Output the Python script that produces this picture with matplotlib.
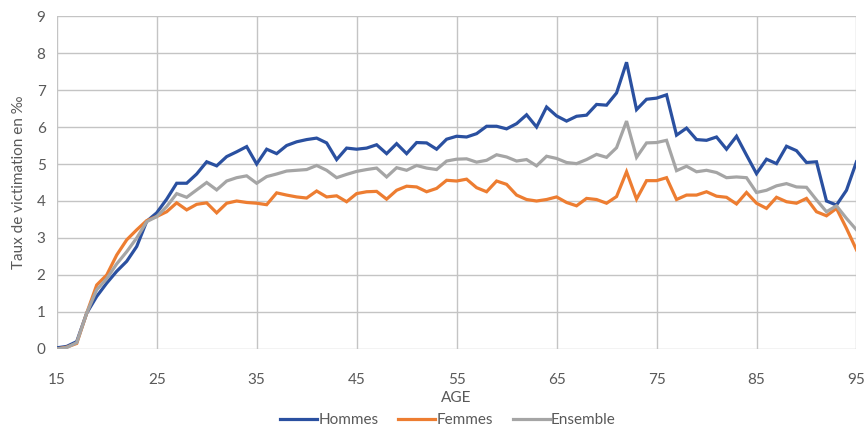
import matplotlib
matplotlib.use('Agg')
import matplotlib.pyplot as plt
import numpy as np

ages = list(range(15, 96))

hommes = [0.03, 0.07, 0.2, 0.97, 1.42, 1.78, 2.1, 2.37, 2.77, 3.45,
          3.68, 4.05, 4.48, 4.48, 4.73, 5.06, 4.95, 5.2, 5.33, 5.47,
          5.0, 5.4, 5.28, 5.5, 5.6, 5.66, 5.7, 5.57, 5.12, 5.43,
          5.4, 5.43, 5.52, 5.28, 5.55, 5.28, 5.58, 5.57, 5.4, 5.67,
          5.75, 5.73, 5.82, 6.02, 6.02, 5.95, 6.09, 6.33, 6.0, 6.54,
          6.3, 6.16, 6.29, 6.32, 6.61, 6.59, 6.92, 7.75, 6.47, 6.75,
          6.78, 6.87, 5.78, 5.97, 5.66, 5.64, 5.73, 5.4, 5.75, 5.24,
          4.74, 5.13, 5.01, 5.48, 5.36, 5.04, 5.06, 4.0, 3.89, 4.29,
          5.06]

femmes = [0.0, 0.05, 0.15, 0.97, 1.73, 2.0, 2.54, 2.95, 3.22, 3.47,
          3.58, 3.71, 3.95, 3.76, 3.91, 3.95, 3.68, 3.94, 4.0, 3.96,
          3.94, 3.9, 4.22, 4.16, 4.11, 4.08, 4.27, 4.11, 4.14, 3.98,
          4.2, 4.25, 4.26, 4.05, 4.29, 4.4, 4.38, 4.25, 4.34, 4.56,
          4.54, 4.59, 4.36, 4.25, 4.54, 4.45, 4.16, 4.04, 4.0, 4.04,
          4.11, 3.96, 3.87, 4.07, 4.04, 3.94, 4.12, 4.79, 4.05, 4.55,
          4.55, 4.63, 4.04, 4.16, 4.16, 4.25, 4.13, 4.1, 3.92, 4.23,
          3.94, 3.8, 4.1, 3.98, 3.94, 4.07, 3.71, 3.6, 3.8, 3.26,
          2.68]

ensemble = [0.0, 0.04, 0.17, 0.97, 1.6, 1.9, 2.3, 2.63, 3.0, 3.44,
            3.58, 3.85, 4.2, 4.1, 4.3, 4.5, 4.3, 4.54, 4.63, 4.68,
            4.48, 4.66, 4.73, 4.81, 4.83, 4.85, 4.96, 4.83, 4.63, 4.72,
            4.8, 4.85, 4.89, 4.65, 4.9, 4.83, 4.96, 4.89, 4.85, 5.08,
            5.13, 5.14, 5.05, 5.1, 5.25, 5.19, 5.08, 5.12, 4.95, 5.21,
            5.15, 5.04, 5.01, 5.12, 5.26, 5.18, 5.44, 6.16, 5.18, 5.57,
            5.58, 5.64, 4.82, 4.94, 4.79, 4.83, 4.77, 4.63, 4.65, 4.63,
            4.23, 4.29, 4.41, 4.47, 4.38, 4.37, 4.03, 3.71, 3.87, 3.53,
            3.22]

series = [('Hommes', hommes, '#2A50A0'),
          ('Femmes', femmes, '#ED7D31'),
          ('Ensemble', ensemble, '#A5A5A5')]

plt.rcParams['font.family'] = ['Lato', 'DejaVu Sans']

fig = plt.figure(figsize=(8.66, 4.28), dpi=100)
ax = fig.add_axes([0.0655, 0.1846, 0.9235, 0.778])

for name, vals, color in series:
    ax.plot(ages, vals, color=color, lw=2.3, label=name, solid_joinstyle='miter')

ax.set_xlim(15, 95)
ax.set_ylim(0, 9)
ax.set_xticks(np.arange(15, 96, 10))
ax.set_yticks(np.arange(0, 10, 1))
ax.grid(True, color='#C4C4C4', lw=1.0)
ax.set_axisbelow(True)
for s in ax.spines.values():
    s.set_visible(False)
ax.tick_params(length=0, labelsize=11, labelcolor='#595959')
ax.tick_params(axis='x', pad=17)
ax.tick_params(axis='y', pad=8)

ax.set_xlabel('AGE', fontsize=11, color='#595959', va='center')
ax.xaxis.set_label_coords(0.5, -0.147)
ax.set_ylabel('Taux de victimation en ‰', fontsize=11, color='#595959', labelpad=8)

ax.legend(loc='center', bbox_to_anchor=(448 / 866, 0.018), bbox_transform=fig.transFigure,
          ncol=3, frameon=False, fontsize=11, labelcolor='#595959',
          handlelength=2.4, handletextpad=0.1, columnspacing=1.3,
          borderpad=0, borderaxespad=0)

fig.savefig('out.png', dpi=100)
